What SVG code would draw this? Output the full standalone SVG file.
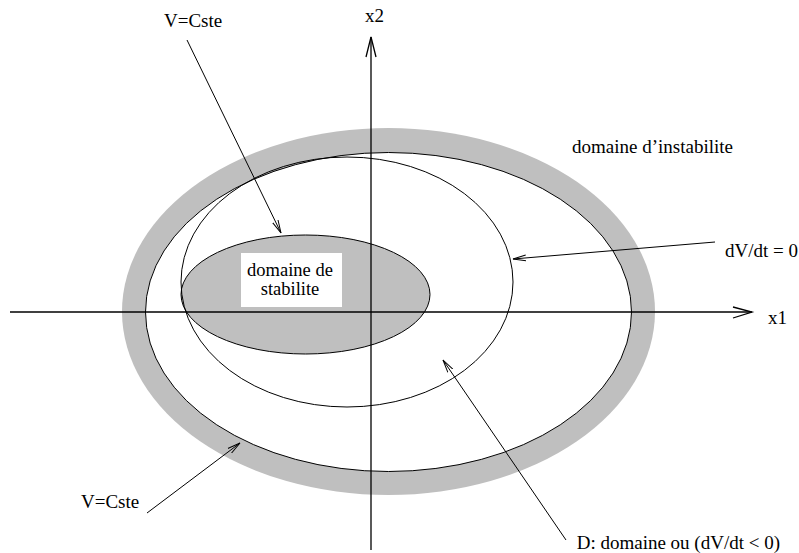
<svg xmlns="http://www.w3.org/2000/svg" width="799" height="553" viewBox="0 0 799 553">
<style>
text{font-family:'Liberation Serif','Times New Roman',serif;font-size:19px;fill:#000}
.box{font-size:18.5px}
.ln{fill:none;stroke:#000;stroke-width:1}
.ax{fill:none;stroke:#000;stroke-width:1.3}
</style>
<defs>
<marker id="ah" markerUnits="userSpaceOnUse" markerWidth="14" markerHeight="8" refX="13" refY="4" orient="auto">
<polyline points="0,1 13,4 0,7" fill="none" stroke="#000" stroke-width="1"/>
</marker>
</defs>
<rect width="799" height="553" fill="#fff"/>
<g id="instability-ring">
<ellipse cx="388.5" cy="311.5" rx="266.5" ry="183.5" fill="#bfbfbf"/>
<ellipse cx="388.5" cy="312" rx="243" ry="159.5" fill="#fff" stroke="#000" stroke-width="1"/>
</g>
<g id="stability-domain">
<ellipse cx="305.5" cy="294.5" rx="124.5" ry="59.5" fill="#bfbfbf" stroke="#000" stroke-width="1"/>
<rect x="241" y="253" width="101" height="54" fill="#fff"/>
<text class="box" x="290" y="276" text-anchor="middle">domaine de</text>
<text class="box" x="290" y="294.5" text-anchor="middle">stabilite</text>
</g>
<g id="dVdt-zero">
<ellipse cx="347" cy="282" rx="166" ry="125" class="ln"/>
</g>
<g id="axes">
<line x1="10" y1="312" x2="752" y2="312" class="ax"/>
<polyline points="733,307 752,312 733,318" class="ax"/>
<line x1="371" y1="550" x2="371" y2="37" class="ax"/>
<polyline points="366,57 371,37 376,57" class="ax"/>
<text x="768" y="324">x1</text>
<text x="365" y="22">x2</text>
</g>
<g id="labels">
<text x="164" y="27">V=Cste</text>
<text x="572" y="153">domaine d’instabilite</text>
<text x="798" y="257" text-anchor="end">dV/dt = 0</text>
<text x="81" y="508">V=Cste</text>
<text x="780" y="549" text-anchor="end">D: domaine ou (dV/dt  &lt; 0)</text>
</g>
<g id="connectors">
<line x1="187" y1="40" x2="281" y2="233" class="ln" marker-end="url(#ah)"/>
<line x1="715" y1="242" x2="513" y2="259" class="ln" marker-end="url(#ah)"/>
<line x1="147" y1="513" x2="240" y2="443" class="ln" marker-end="url(#ah)"/>
<line x1="566" y1="540" x2="443" y2="360" class="ln" marker-end="url(#ah)"/>
</g>
</svg>
